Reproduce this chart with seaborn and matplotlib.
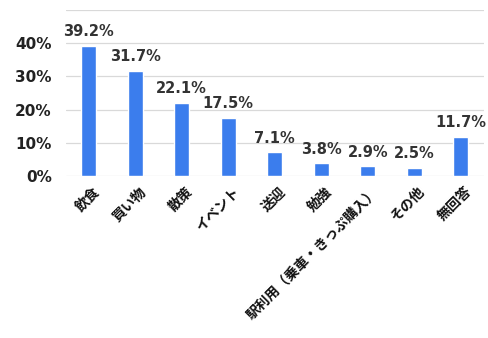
import matplotlib
matplotlib.use("Agg")
import matplotlib.pyplot as plt
import matplotlib.transforms as mtransforms
import seaborn as sns
import pandas as pd
from matplotlib.ticker import FuncFormatter

categories = ["飲食", "買い物", "散策", "イベント", "送迎", "勉強",
              "駅利用（乗車・きっぷ購入）", "その他", "無回答"]
values = [39.2, 31.7, 22.1, 17.5, 7.1, 3.8, 2.9, 2.5, 11.7]
y_ticks = [0, 10, 20, 30, 40]

sns.set_theme(style="white")
plt.rcParams['font.family'] = ['DejaVu Sans', 'Noto Sans CJK JP']

df = pd.DataFrame({"cat": categories, "val": values})

fig = plt.figure(figsize=(4.89, 3.38), dpi=100)
ax = fig.add_axes([0.134, 0.479, 0.856, 0.492])

sns.barplot(data=df, x="cat", y="val", color="#3B7DED", width=0.32,
            saturation=1, ax=ax, zorder=3)

ax.set_xlim(-0.5, len(categories) - 0.5)
ax.set_ylim(0, 50)
ax.set_yticks(y_ticks + [50])
ax.yaxis.set_major_formatter(FuncFormatter(lambda v, p: f"{int(v)}%" if v < 50 else ""))
ax.grid(axis="y", color="#d9d9d9", linewidth=0.9, zorder=0)
for s in ax.spines.values():
    s.set_visible(False)
ax.set_xlabel("")
ax.set_ylabel("")
ax.tick_params(axis="y", length=0, pad=10, labelsize=11, labelcolor="#222222")
ax.tick_params(axis="x", length=0, pad=2)
for t in ax.get_yticklabels():
    t.set_fontweight("bold")

ax.set_xticks(range(len(categories)))
ax.set_xticklabels(categories, rotation=45, ha="right", rotation_mode="anchor",
                   fontsize=10, fontweight="bold", color="#111111",
                   family=['Noto Sans CJK JP', 'DejaVu Sans'])
for lab in ax.get_xticklabels():
    lab.set_transform(lab.get_transform() + mtransforms.ScaledTranslation(2.5/72, -4/72, fig.dpi_scale_trans))

for i, v in enumerate(values):
    ax.annotate(f"{v:.1f}%", (i, v), xytext=(0, 5), textcoords="offset points",
                ha="center", va="bottom", fontsize=10.5, fontweight="bold",
                color="#333333")

fig.savefig("out.png", dpi=100, facecolor="white")
